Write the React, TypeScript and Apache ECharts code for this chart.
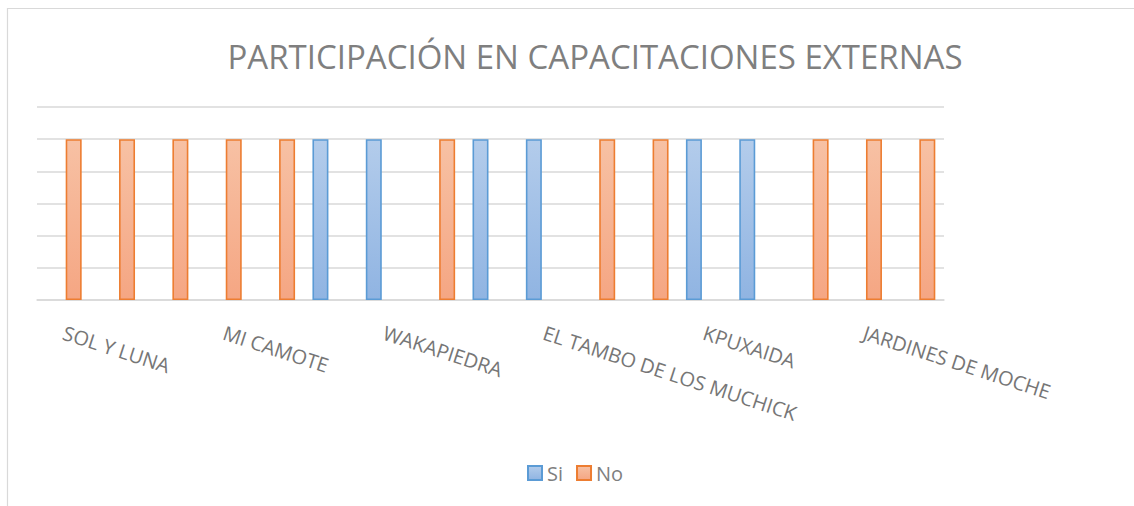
import React, { useEffect, useRef } from "react";
import * as echarts from "echarts";

const TITLE = "PARTICIPACIÓN EN CAPACITACIONES EXTERNAS";
const categories = [
  "SOL Y LUNA", "", "",
  "MI CAMOTE", "", "",
  "WAKAPIEDRA", "", "",
  "EL TAMBO DE LOS MUCHICK", "", "",
  "KPUXAIDA", "", "",
  "JARDINES DE MOCHE", "",
];
const siValues = [null, null, null, null, null, 1, 1, null, 1, 1, null, null, 1, 1, null, null, null];
const noValues = [1, 1, 1, 1, 1, null, null, 1, null, null, 1, 1, null, null, 1, 1, 1];
const yTicks = { min: 0, max: 1.2, interval: 0.2 };

const FONT = "'Open Sans', sans-serif";

export default function App() {
  const ref = useRef<HTMLDivElement>(null);
  useEffect(() => {
    if (!ref.current) return;
    const chart = echarts.init(ref.current, null, { renderer: "svg" });
    const blueFill = new echarts.graphic.LinearGradient(0, 0, 0, 1, [
      { offset: 0, color: "#b3cceb" },
      { offset: 1, color: "#90b4e2" },
    ]);
    const orangeFill = new echarts.graphic.LinearGradient(0, 0, 0, 1, [
      { offset: 0, color: "#f7c1a4" },
      { offset: 1, color: "#f5a683" },
    ]);
    chart.setOption({
      animation: false,
      backgroundColor: "#ffffff",
      graphic: [
        {
          type: "rect",
          shape: { x: 7.5, y: 8.5, width: 1200, height: 600 },
          style: { fill: "none", stroke: "#d9d9d9", lineWidth: 1.2 },
          silent: true,
        },
        {
          type: "text",
          x: 595,
          y: 56,
          style: {
            text: TITLE,
            fill: "#7f7f7f",
            font: `33px ${FONT}`,
            textAlign: "center",
            textVerticalAlign: "middle",
          },
        },
      ],
      legend: {
        left: 527,
        top: 463,
        padding: 0,
        icon: "rect",
        itemWidth: 14,
        itemHeight: 14,
        itemGap: 13,
        textStyle: { color: "#7f7f7f", fontSize: 20, fontFamily: FONT },
        data: ["Si", "No"],
      },
      grid: { left: 37, right: 190, top: 107, bottom: 206, containLabel: false },
      xAxis: {
        type: "category",
        data: categories,
        axisLine: { lineStyle: { color: "#d9d9d9", width: 1.5 } },
        axisTick: { show: false },
        axisLabel: {
          interval: 2,
          rotate: -18,
          margin: 32,
          color: "#767676",
          fontSize: 20,
          fontFamily: FONT,
        },
      },
      yAxis: {
        type: "value",
        min: yTicks.min,
        max: yTicks.max,
        interval: yTicks.interval,
        axisLabel: { show: false },
        axisLine: { show: false },
        axisTick: { show: false },
        splitLine: { lineStyle: { color: "#d9d9d9", width: 1.5 } },
      },
      series: [
        {
          name: "Si",
          type: "bar",
          data: siValues,
          barWidth: 16,
          barGap: "25%",
          itemStyle: { color: blueFill, borderColor: "#5b9bd5", borderWidth: 1.6 },
        },
        {
          name: "No",
          type: "bar",
          data: noValues,
          barWidth: 16,
          barGap: "25%",
          itemStyle: { color: orangeFill, borderColor: "#ed7d31", borderWidth: 1.6 },
        },
      ],
    });
    return () => chart.dispose();
  }, []);
  return (
    <div
      ref={ref}
      style={{ position: "absolute", left: 0, top: 0, width: 1134, height: 506 }}
    />
  );
}
